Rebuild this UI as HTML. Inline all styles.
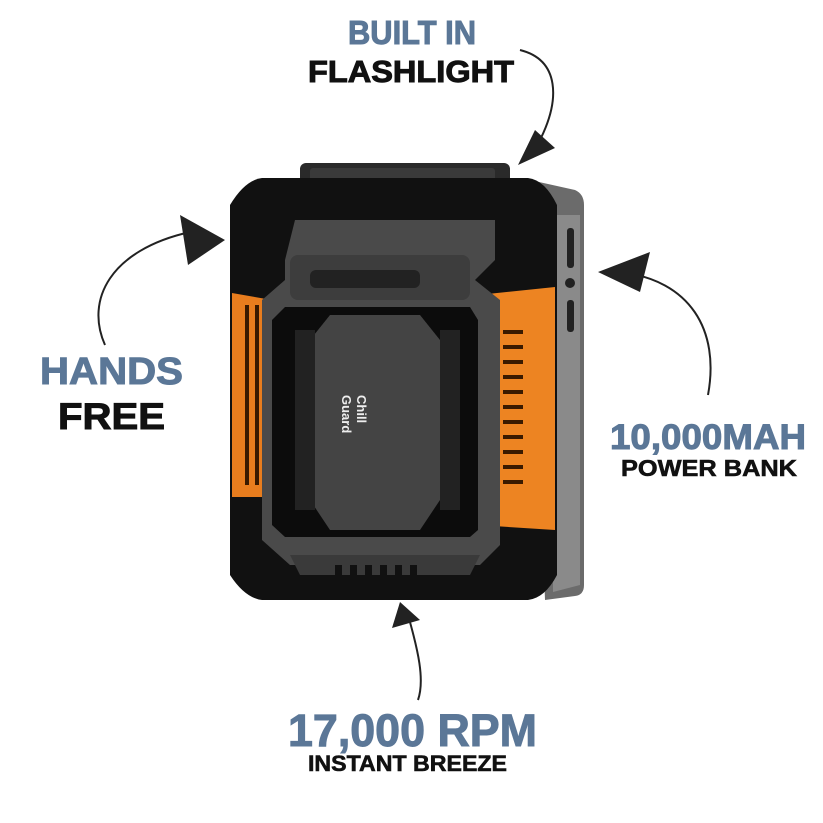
<!DOCTYPE html>
<html><head><style>
html,body{margin:0;padding:0;background:#fff;}
svg{display:block;}
text{font-family:"Liberation Sans",Arial,sans-serif;font-weight:bold;}
</style></head><body>
<svg width="823" height="823" viewBox="0 0 823 823" xmlns="http://www.w3.org/2000/svg">
<rect width="823" height="823" fill="#fff"/>
<text x="348" y="44" font-size="33" fill="#5b7797" stroke="#5b7797" stroke-width="1" textLength="128" lengthAdjust="spacingAndGlyphs">BUILT IN</text>
<text x="308" y="82" font-size="31" fill="#111" stroke="#111" stroke-width="1" textLength="206" lengthAdjust="spacingAndGlyphs">FLASHLIGHT</text>
<text x="40" y="384" font-size="38" fill="#5b7797" stroke="#5b7797" stroke-width="1" textLength="143" lengthAdjust="spacingAndGlyphs">HANDS</text>
<text x="58" y="429" font-size="37" fill="#111" stroke="#111" stroke-width="1" textLength="107" lengthAdjust="spacingAndGlyphs">FREE</text>
<text x="610" y="449" font-size="35" fill="#5b7797" stroke="#5b7797" stroke-width="1" textLength="196" lengthAdjust="spacingAndGlyphs">10,000MAH</text>
<text x="621" y="476" font-size="23" fill="#111" stroke="#111" stroke-width="0.6" textLength="176" lengthAdjust="spacingAndGlyphs">POWER BANK</text>
<text x="288" y="746" font-size="45" fill="#5b7797" stroke="#5b7797" stroke-width="1" textLength="249" lengthAdjust="spacingAndGlyphs">17,000 RPM</text>
<text x="308" y="771" font-size="22" fill="#111" stroke="#111" stroke-width="0.6" textLength="199" lengthAdjust="spacingAndGlyphs">INSTANT BREEZE</text>
<g fill="none" stroke="#222" stroke-width="2">
<path d="M520 50 C560 60 560 100 540 140"/>
<path d="M105 345 C85 300 110 250 190 232"/>
<path d="M708 395 C720 330 690 280 620 272"/>
<path d="M418 700 C425 680 418 650 408 615"/>
</g>
<g fill="#222">
<polygon points="518,165 555,148 535,130"/>
<polygon points="225,240 180,215 188,265"/>
<polygon points="598,272 650,252 640,292"/>
<polygon points="400,602 392,628 420,620"/>
</g>
<rect x="300" y="163" width="210" height="36" rx="6" fill="#2a2a2a"/>
<rect x="310" y="168" width="185" height="24" rx="3" fill="#3a3a3a"/>
<path d="M530 180 L575 190 Q584 194 584 205 L584 585 Q584 595 575 596 L545 600 Z" fill="#6b6b6b"/>
<path d="M553 215 L580 215 L580 585 L553 592 Z" fill="#8a8a8a"/>
<path d="M262 178 L528 178 Q545 180 557 205 L557 575 Q545 598 528 600 L262 600 Q245 598 230 575 L230 205 Q245 180 262 178 Z" fill="#111"/>
<path d="M232 293 L272 300 L272 497 L232 497 Z" fill="#e87d1e"/>
<path d="M478 295 L555 287 L555 530 L478 525 Z" fill="#ed8422"/>
<g fill="#3a1a00">
<rect x="245" y="305" width="4" height="180"/><rect x="255" y="305" width="4" height="180"/>
<rect x="503" y="330" width="20" height="4"/><rect x="503" y="345" width="20" height="4"/><rect x="503" y="360" width="20" height="4"/><rect x="503" y="375" width="20" height="4"/><rect x="503" y="390" width="20" height="4"/><rect x="503" y="405" width="20" height="4"/><rect x="503" y="420" width="20" height="4"/><rect x="503" y="435" width="20" height="4"/><rect x="503" y="450" width="20" height="4"/><rect x="503" y="465" width="20" height="4"/><rect x="503" y="480" width="20" height="4"/>
</g>
<path d="M295 220 L495 220 L495 260 L475 280 L500 300 L500 545 L480 565 L290 565 L262 540 L262 300 L285 280 L285 260 Z" fill="#4a4a4a"/>
<rect x="290" y="255" width="180" height="45" rx="8" fill="#3d3d3d"/>
<rect x="310" y="270" width="110" height="18" rx="6" fill="#222"/>
<path d="M285 307 L470 307 L478 320 L478 530 L470 537 L285 537 L272 525 L272 320 Z" fill="#0c0c0c"/>
<path d="M330 315 L420 315 L440 340 L440 500 L420 530 L330 530 L310 500 L310 340 Z" fill="#444"/>
<path d="M295 330 L315 330 L315 510 L295 510 Z M440 330 L460 330 L460 510 L440 510 Z" fill="#222"/>
<text transform="translate(357,395) rotate(90)" font-size="13" fill="#eee" font-weight="normal">Chill</text>
<text transform="translate(342,395) rotate(90)" font-size="13" fill="#eee" font-weight="normal">Guard</text>
<path d="M290 555 L480 555 L470 575 L300 575 Z" fill="#3a3a3a"/>
<g fill="#111"><rect x="335" y="565" width="7" height="12"/><rect x="350" y="565" width="7" height="12"/><rect x="365" y="565" width="7" height="12"/><rect x="380" y="565" width="7" height="12"/><rect x="395" y="565" width="7" height="12"/><rect x="410" y="565" width="7" height="12"/></g>
<rect x="567" y="228" width="7" height="40" rx="3" fill="#222"/>
<circle cx="570" cy="283" r="5" fill="#222"/>
<rect x="567" y="300" width="7" height="32" rx="3" fill="#222"/>
</svg>
</body></html>
